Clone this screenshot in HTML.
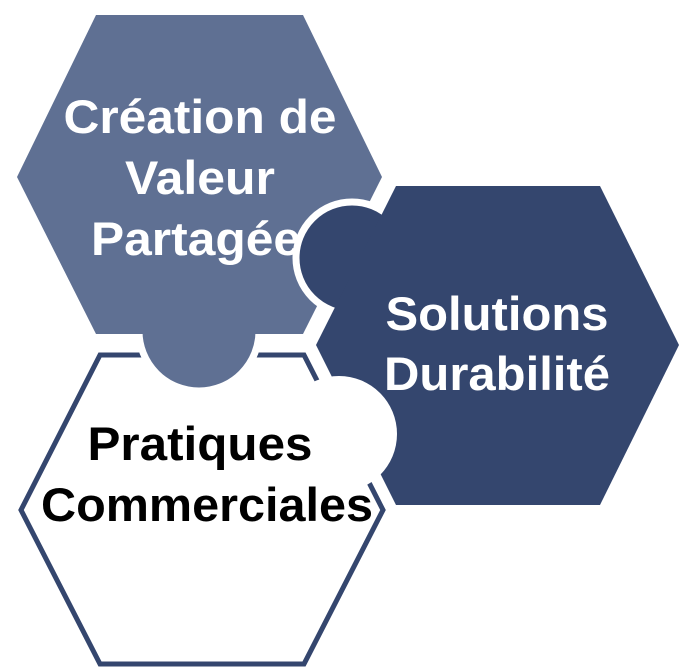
<!DOCTYPE html>
<html><head><meta charset="utf-8"><style>html,body{margin:0;padding:0;background:#fff}svg{display:block}</style></head>
<body>
<svg width="683" height="671" viewBox="0 0 683 671" xmlns="http://www.w3.org/2000/svg">
<polygon points="100,355 304,355 383,510 304,664 100,664 21,510" fill="#fff" stroke="#34466e" stroke-width="5"/>
<g fill="#5f7093" stroke="#fff" stroke-width="7">
<polygon points="96,15 303,15 382,177 303,336 96,336 17,177"/>
<circle cx="199" cy="331" r="60"/>
</g>
<polygon points="96,15 303,15 382,177 303,334 96,334 17,177" fill="#5f7093"/>
<g fill="#34466e" stroke="#fff" stroke-width="7">
<polygon points="396,186 600,186 679,345 600,505 396,505 316,345"/>
<circle cx="352" cy="258" r="56"/>
</g>
<polygon points="396,186 600,186 679,345 600,505 396,505 316,345" fill="#34466e"/>
<circle cx="339" cy="434" r="58" fill="#fff"/>
<g font-family="Liberation Sans, Arial, sans-serif" font-weight="bold" font-size="47" text-anchor="middle">
<text x="200" y="133" fill="#fff" textLength="273" lengthAdjust="spacingAndGlyphs">Création de</text>
<text x="200" y="194" fill="#fff" textLength="150" lengthAdjust="spacingAndGlyphs">Valeur</text>
<text x="196" y="255" fill="#fff" textLength="210" lengthAdjust="spacingAndGlyphs">Partagée</text>
<text x="497" y="330" fill="#fff" textLength="223" lengthAdjust="spacingAndGlyphs">Solutions</text>
<text x="497" y="390" fill="#fff" textLength="226" lengthAdjust="spacingAndGlyphs">Durabilité</text>
<text x="200" y="460" fill="#000" textLength="225" lengthAdjust="spacingAndGlyphs">Pratiques</text>
<text x="207" y="521" fill="#000" textLength="332" lengthAdjust="spacingAndGlyphs">Commerciales</text>
</g>
</svg>
</body></html>
